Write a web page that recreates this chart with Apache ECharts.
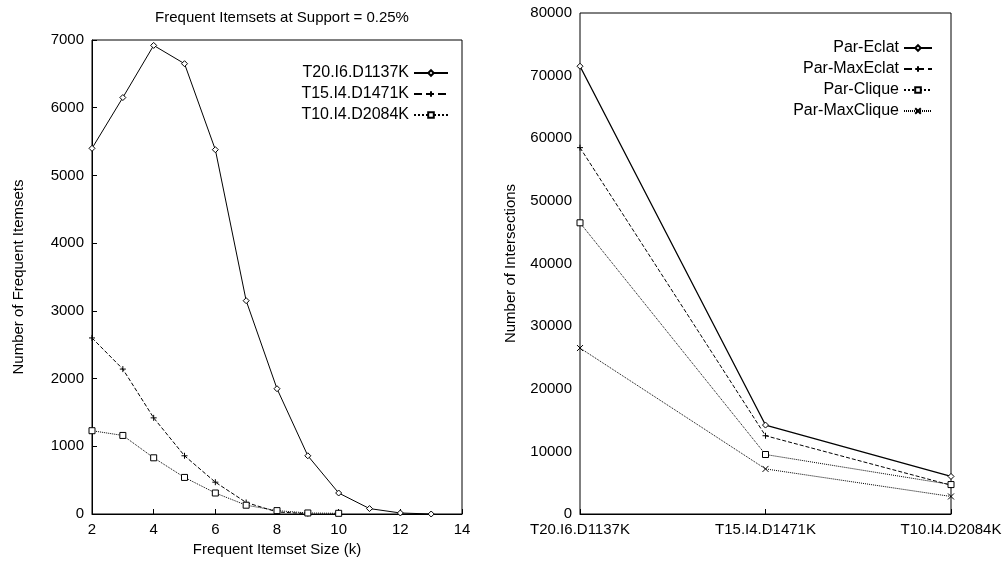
<!DOCTYPE html>
<html><head><meta charset="utf-8">
<script src="https://cdn.jsdelivr.net/npm/echarts@6/dist/echarts.min.js"></script>
<style>html,body{margin:0;background:#fff}#c{width:1005px;height:583px}</style>
</head><body><div id="c"></div>
<script>
const sizes=[2,3,4,5,6,7,8,9,10,11,12,13];
const t20=[5400,6150,6920,6650,5380,3150,1850,860,310,80,15,0];
const t15=[2600,2140,1420,860,470,170,30,5];
const t10=[1230,1160,830,540,310,130,50,15,10];
const datasets=['T20.I6.D1137K','T15.I4.D1471K','T10.I4.D2084K'];
const parEclat=[71500,14200,6000];
const parMaxEclat=[58500,12500,4600];
const parClique=[46500,9500,4700];
const parMaxClique=[26500,7200,2800];
const F='Liberation Sans';
const pair=(v)=>v.map((y,i)=>[sizes[i],y]);
const ax={axisLine:{lineStyle:{color:'#000'}},axisTick:{inside:true,length:5,lineStyle:{color:'#000'}},axisLabel:{color:'#000',fontFamily:F,fontSize:15,formatter:v=>String(v)},splitLine:{show:false}};
function ser(name,data,sym,type,xi,w){return {name,type:'line',data,xAxisIndex:xi,yAxisIndex:xi,symbol:sym,symbolSize:6,showSymbol:true,
 lineStyle:{color:'#000',width:w||1,type},itemStyle:{color:'#fff',borderColor:'#000',borderWidth:1},z:3};}
const plus='path://M0,5L10,5M5,0L5,10';
const cross='path://M0,0L10,10M10,0L0,10';
const chart=echarts.init(document.getElementById('c'));
const lt={fontFamily:F,fontSize:16,color:'#000'};
chart.setOption({
 animation:false,
 title:{text:'Frequent Itemsets at Support = 0.25%',left:277,top:5,textAlign:'center',textStyle:{fontFamily:F,fontSize:15,fontWeight:'normal',color:'#000'}},
 grid:[{left:92,top:40,width:370,height:474,show:true,borderColor:'#000',borderWidth:1},
       {left:580,top:13,width:371,height:501,show:true,borderColor:'#000',borderWidth:1}],
 xAxis:[Object.assign({type:'value',gridIndex:0,min:2,max:14,interval:2,name:'Frequent Itemset Size (k)',nameLocation:'middle',nameGap:25,nameTextStyle:{fontFamily:F,fontSize:15,color:'#000'}},ax),
        Object.assign({type:'category',gridIndex:1,data:datasets,boundaryGap:false},ax)],
 yAxis:[Object.assign({type:'value',gridIndex:0,min:0,max:7000,interval:1000,name:'Number of Frequent Itemsets',nameLocation:'middle',nameGap:66,nameTextStyle:{fontFamily:F,fontSize:15,color:'#000'}},ax),
        Object.assign({type:'value',gridIndex:1,min:0,max:80000,interval:10000,name:'Number of Intersections',nameLocation:'middle',nameGap:62,nameTextStyle:{fontFamily:F,fontSize:15,color:'#000'}},ax)],
 legend:[{data:datasets,orient:'vertical',right:1005-462+8,top:60,align:'right',itemGap:5,itemWidth:34,itemHeight:7,textStyle:lt},
         {data:['Par-Eclat','Par-MaxEclat','Par-Clique','Par-MaxClique'],orient:'vertical',right:1005-951+13,top:35,align:'right',itemGap:5,itemWidth:28,itemHeight:7,textStyle:lt}],
 series:[ser(datasets[0],pair(t20),'diamond','solid',0),ser(datasets[1],pair(t15),plus,'dashed',0),ser(datasets[2],pair(t10),'rect','dotted',0),
   ser('Par-Eclat',parEclat,'diamond','solid',1,1.3),ser('Par-MaxEclat',parMaxEclat,plus,'dashed',1),ser('Par-Clique',parClique,'rect','dotted',1),ser('Par-MaxClique',parMaxClique,cross,[1,1],1)]
});
</script></body></html>
